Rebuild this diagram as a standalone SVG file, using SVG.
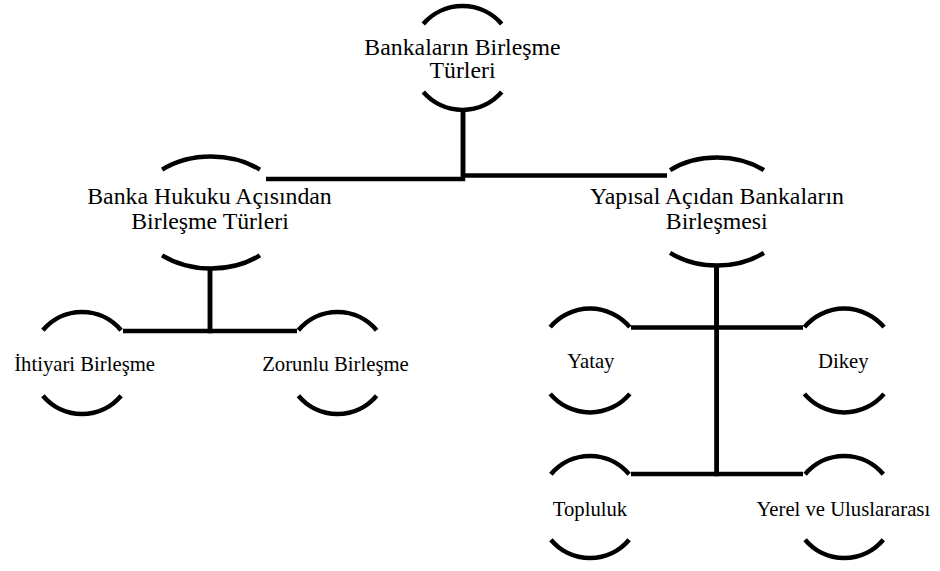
<svg xmlns="http://www.w3.org/2000/svg" width="940" height="571" viewBox="0 0 940 571">
<style>
.arc{fill:none;stroke:#000;stroke-width:4.5;stroke-linecap:butt}
.con{fill:none;stroke:#000;stroke-width:4.5;stroke-linejoin:miter;stroke-linecap:butt}
.big{font-family:"Liberation Serif","Times New Roman",serif;font-size:23.8px;fill:#000;text-anchor:middle}
.small{font-family:"Liberation Serif","Times New Roman",serif;font-size:20.7px;fill:#000;text-anchor:middle}
</style>
<rect width="940" height="571" fill="#fff"/>
<g id="connectors">
<path class="con" d="M463,110 V179 H266"/>
<path class="con" d="M463,110 V175.5 H667"/>
<path class="con" d="M210,268 V331 H123"/>
<path class="con" d="M210,268 V331 H297"/>
<path class="con" d="M716.7,265 V327.5 H631"/>
<path class="con" d="M716.7,265 V327.5 H803"/>
<path class="con" d="M716.7,265 V474 H631"/>
<path class="con" d="M716.7,265 V474 H803"/>
</g>
<g id="node-root">
<path class="arc" d="M423.3,23.9 A52,52 0 0 1 501.7,23.9"/>
<path class="arc" d="M423.3,92.1 A52,52 0 0 0 501.7,92.1"/>
<text class="big" x="462.5" y="55">Bankaların Birleşme</text>
<text class="big" x="462.5" y="78.3">Türleri</text>
</g>
<g id="node-hukuk">
<path class="arc" d="M162.1,169.6 A76,56 0 0 1 259.9,169.6"/>
<path class="arc" d="M162.1,255.4 A76,56 0 0 0 259.9,255.4"/>
<text class="big" x="209.5" y="204">Banka Hukuku Açısından</text>
<text class="big" x="210" y="229">Birleşme Türleri</text>
</g>
<g id="node-yapisal">
<path class="arc" d="M670.1,170.1 A73,54 0 0 1 763.9,170.1"/>
<path class="arc" d="M670.1,252.9 A73,54 0 0 0 763.9,252.9"/>
<text class="big" x="717" y="204">Yapısal Açıdan Bankaların</text>
<text class="big" x="716.7" y="229">Birleşmesi</text>
</g>
<g id="node-ihtiyari">
<path class="arc" d="M42.9,330.2 A51,51 0 0 1 121.1,330.2"/>
<path class="arc" d="M42.9,395.8 A51,51 0 0 0 121.1,395.8"/>
<text class="small" x="84.6" y="371">İhtiyari Birleşme</text>
</g>
<g id="node-zorunlu">
<path class="arc" d="M298.4,330.2 A51,51 0 0 1 376.6,330.2"/>
<path class="arc" d="M298.4,395.8 A51,51 0 0 0 376.6,395.8"/>
<text class="small" x="335.5" y="371">Zorunlu Birleşme</text>
</g>
<g id="node-yatay">
<path class="arc" d="M550.2,327.1 A52,52 0 0 1 629.8,327.1"/>
<path class="arc" d="M550.2,393.9 A52,52 0 0 0 629.8,393.9"/>
<text class="small" x="590.8" y="367.5">Yatay</text>
</g>
<g id="node-dikey">
<path class="arc" d="M804.4,327.1 A52,52 0 0 1 884,327.1"/>
<path class="arc" d="M804.4,393.9 A52,52 0 0 0 884,393.9"/>
<text class="small" x="843.3" y="367.5">Dikey</text>
</g>
<g id="node-topluluk">
<path class="arc" d="M550.9,474.2 A51,51 0 0 1 629.1,474.2"/>
<path class="arc" d="M550.9,539.8 A51,51 0 0 0 629.1,539.8"/>
<text class="small" x="590" y="516">Topluluk</text>
</g>
<g id="node-yerel">
<path class="arc" d="M805.1,474.2 A51,51 0 0 1 883.3,474.2"/>
<path class="arc" d="M805.1,539.8 A51,51 0 0 0 883.3,539.8"/>
<text class="small" x="843.3" y="516">Yerel ve Uluslararası</text>
</g>
</svg>
